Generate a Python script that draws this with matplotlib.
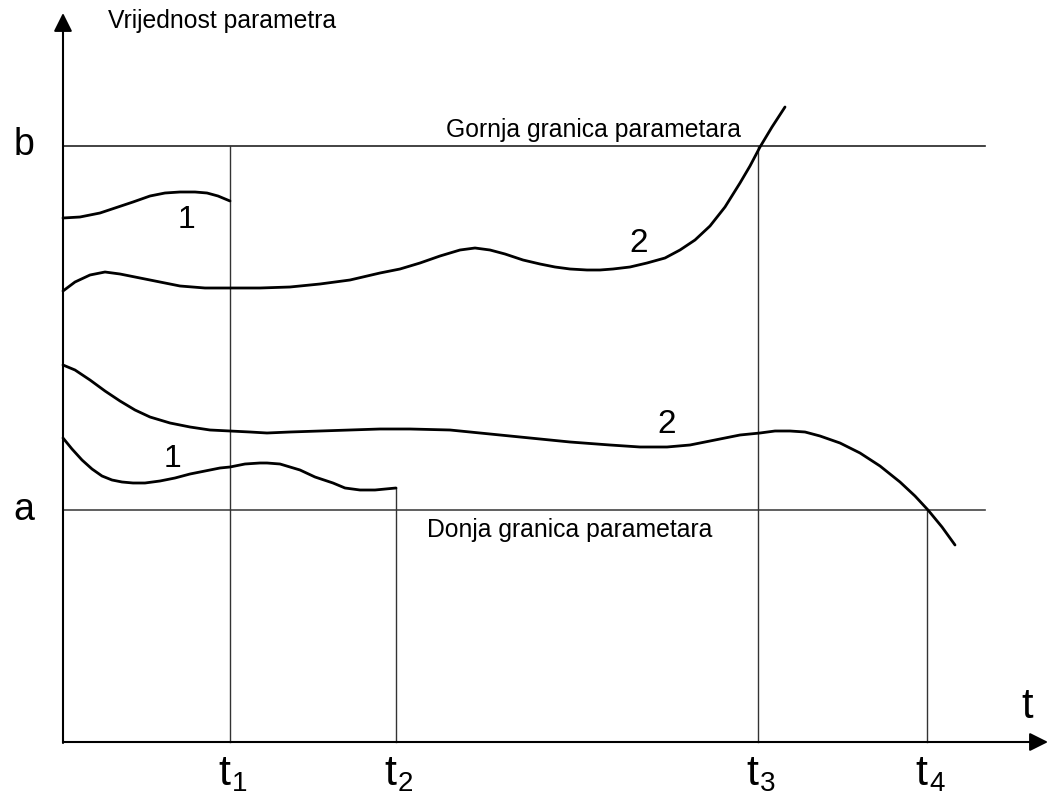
import matplotlib.pyplot as plt

plt.rcParams['font.family'] = ['Liberation Sans', 'DejaVu Sans']

# picture coordinates (x right, y down)
x_axis_y = 742
y_axis_x = 63
b_level = 146
a_level = 510
t_marks = {'1': 230, '2': 396, '3': 758, '4': 927}
t_tops = {'1': 146, '2': 488, '3': 146, '4': 510}

upper_1_x = [63, 80, 100, 115, 133, 150, 165, 180, 195, 207, 218, 230]
upper_1_y = [218, 217, 213, 208, 202, 196, 193, 192, 192, 193, 196, 201]

upper_2_x = [63, 75, 90, 105, 120, 140, 160, 180, 205, 230, 260, 290, 320, 350, 380, 400, 420,
             440, 460, 475, 490, 505, 523, 540, 555, 570, 587, 600, 613, 630, 647, 665, 680,
             695, 710, 725, 740, 750, 760, 772, 785]
upper_2_y = [291, 282, 275, 272, 274, 278, 282, 286, 288, 288, 288, 287, 284, 280, 273, 269, 263,
             256, 250, 248, 250, 254, 260, 264, 267, 269, 270, 270, 269, 267, 263, 258, 250,
             240, 226, 207, 183, 166, 147, 127, 107]

lower_2_x = [63, 75, 90, 105, 120, 135, 150, 170, 190, 210, 230, 250, 267, 290, 320, 350, 380,
             410, 450, 490, 530, 570, 610, 640, 667, 690, 715, 740, 760, 775, 790, 805, 820,
             840, 860, 880, 900, 915, 928, 942, 955]
lower_2_y = [365, 370, 380, 391, 401, 410, 417, 423, 427, 430, 431, 432, 433, 432, 431, 430, 429,
             429, 430, 434, 438, 442, 445, 447, 447, 445, 440, 435, 433, 431, 431, 432, 436,
             443, 453, 466, 482, 496, 510, 527, 545]

lower_1_x = [63, 72, 82, 92, 102, 112, 122, 133, 145, 160, 175, 190, 205, 220, 230, 245, 260,
             267, 280, 290, 300, 315, 333, 345, 360, 375, 396]
lower_1_y = [438, 449, 460, 469, 476, 480, 482, 483, 483, 481, 478, 474, 471, 468, 467, 464, 463,
             463, 464, 467, 470, 477, 483, 488, 490, 490, 488]

fig = plt.figure(figsize=(10.51, 7.98), dpi=100)
ax = fig.add_axes([0, 0, 1, 1])
ax.set_xlim(0, 1051)
ax.set_ylim(798, 0)
ax.axis('off')

# axes with arrows
ax.annotate('', xy=(y_axis_x, 13), xytext=(y_axis_x, x_axis_y + 1),
            arrowprops=dict(arrowstyle='-|>', color='black', lw=1.5, mutation_scale=28,
                            shrinkA=0, shrinkB=0))
ax.annotate('', xy=(1048, x_axis_y), xytext=(y_axis_x, x_axis_y),
            arrowprops=dict(arrowstyle='-|>', color='black', lw=1.5, mutation_scale=28,
                            shrinkA=0, shrinkB=0))

# limits
ax.plot([y_axis_x, 985], [b_level, b_level], color='#222222', lw=1.2)
ax.plot([y_axis_x, 985], [a_level, a_level], color='#444444', lw=1.2)

for k, xv in t_marks.items():
    ax.plot([xv, xv], [t_tops[k], x_axis_y], color='#333333', lw=1.0)
    ax.text(xv - 6, 785, 't', fontsize=31, ha='center', va='baseline')
    ax.text(xv + 2, 791, k, fontsize=20, ha='left', va='baseline')

for xs, ys in [(upper_1_x, upper_1_y), (upper_2_x, upper_2_y),
               (lower_2_x, lower_2_y), (lower_1_x, lower_1_y)]:
    ax.plot(xs, ys, color='black', lw=2, solid_joinstyle='round', solid_capstyle='round')

ax.text(108, 28, 'Vrijednost parametra', fontsize=17.8, ha='left', va='baseline')
ax.text(593, 137, 'Gornja granica parametara', fontsize=17.8, ha='center', va='baseline')
ax.text(570, 537, 'Donja granica parametara', fontsize=17.8, ha='center', va='baseline')
ax.text(24, 155, 'b', fontsize=27, ha='center', va='baseline')
ax.text(24, 520, 'a', fontsize=27, ha='center', va='baseline')
ax.text(1027, 718, 't', fontsize=30, ha='center', va='baseline')

ax.text(186, 228, '1', fontsize=23, ha='center', va='baseline')
ax.text(172, 467, '1', fontsize=23, ha='center', va='baseline')
ax.text(639, 252, '2', fontsize=24, ha='center', va='baseline')
ax.text(667, 433, '2', fontsize=24, ha='center', va='baseline')

fig.savefig('out.png', dpi=100)
